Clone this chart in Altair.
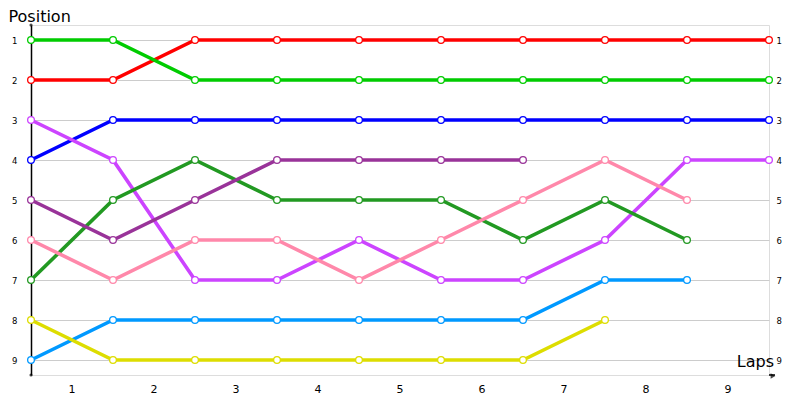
import altair as alt
import pandas as pd

# ---- data ----
nodes = [0, 1, 2, 3, 4, 5, 6, 7, 8, 9]
lap_labels = [1, 2, 3, 4, 5, 6, 7, 8, 9]
lap_mid = [0.5, 1.5, 2.5, 3.5, 4.5, 5.5, 6.5, 7.5, 8.5]
positions = [1, 2, 3, 4, 5, 6, 7, 8, 9]

series_names = ["A", "B", "C", "D", "E", "F", "G", "H", "I"]
series_colors = ["#ff0000", "#00cc00", "#0000ff", "#cc44ff", "#229922",
                 "#993399", "#ff88aa", "#0099ff", "#dddd00"]

s_red = [2, 2, 1, 1, 1, 1, 1, 1, 1, 1]
s_green = [1, 1, 2, 2, 2, 2, 2, 2, 2, 2]
s_blue = [4, 3, 3, 3, 3, 3, 3, 3, 3, 3]
s_violet = [3, 4, 7, 7, 6, 7, 7, 6, 4, 4]
s_darkgreen = [7, 5, 4, 5, 5, 5, 6, 5, 6]
s_purple = [5, 6, 5, 4, 4, 4, 4]
s_pink = [6, 7, 6, 6, 7, 6, 5, 4, 5]
s_skyblue = [9, 8, 8, 8, 8, 8, 8, 7, 7]
s_yellow = [8, 9, 9, 9, 9, 9, 9, 8]

all_series = [s_red, s_green, s_blue, s_violet, s_darkgreen,
              s_purple, s_pink, s_skyblue, s_yellow]

x_title = "Laps"
y_title = "Position"

rows = []
for name, vals in zip(series_names, all_series):
    for x, v in zip(nodes, vals):
        rows.append({"series": name, "x": x, "pos": v})
df = pd.DataFrame(rows)
laps_df = pd.DataFrame({"mid": lap_mid, "lap": [str(l) for l in lap_labels]})

W, H = 738, 350
font = "DejaVu Sans"

xscale = alt.Scale(domain=[0, 9], nice=False, zero=False)
yscale = alt.Scale(domain=[0.625, 9.375], reverse=True, nice=False, zero=False)
color = alt.Color("series:N", scale=alt.Scale(domain=series_names, range=series_colors), legend=None)

lines = alt.Chart(df).mark_line(strokeWidth=3.6).encode(
    x=alt.X("x:Q", scale=xscale,
            axis=alt.Axis(values=nodes, grid=True, gridColor="#cccccc", labels=False,
                          ticks=False, domainColor="black", domainWidth=1.5, title=None)),
    y=alt.Y("pos:Q", scale=yscale,
            axis=alt.Axis(values=positions, grid=True, gridColor="#cccccc", ticks=False,
                          domainColor="black", domainWidth=1.5, labelPadding=14,
                          labelFont=font, labelFontSize=8.5, labelColor="black",
                          title=y_title, titleAngle=0, titleAlign="left",
                          titleBaseline="alphabetic", titleX=-23, titleY=-4,
                          titleFont=font, titleFontSize=16, titleFontWeight="normal",
                          titleColor="black")),
    color=color,
    order="x:Q",
)

points = alt.Chart(df).mark_point(filled=False, fill="white", fillOpacity=1,
                                  size=45, strokeWidth=1.3, opacity=1).encode(
    x=alt.X("x:Q", scale=xscale, axis=None),
    y=alt.Y("pos:Q", scale=yscale,
            axis=alt.Axis(values=positions, orient="right", grid=False, ticks=False,
                          domain=False, labelPadding=7, labelFont=font,
                          labelFontSize=8.5, labelColor="black", title=None)),
    color=color,
)

lap_text = alt.Chart(laps_df).mark_text(font=font, fontSize=11, color="black",
                                        baseline="alphabetic").encode(
    x=alt.X("mid:Q", scale=xscale, axis=None),
    y=alt.value(368),
    text="lap:N",
)

laps_title = alt.Chart(pd.DataFrame({"t": [x_title]})).mark_text(
    font=font, fontSize=16, color="black", align="right", baseline="alphabetic"
).encode(x=alt.value(743), y=alt.value(342), text="t:N")

# axis decorations: arrow at x-axis end, dots at y-axis ends
ax_ext = alt.Chart(laps_df.head(1)).mark_rule(color="black", strokeWidth=1.5).encode(
    x=alt.value(W), x2=alt.value(W + 6), y=alt.value(H))
arrow = alt.Chart(laps_df.head(1)).mark_point(shape="triangle-right", filled=True,
                                               color="black", size=30).encode(
    x=alt.value(W + 4), y=alt.value(H + 1))
dots = alt.Chart(pd.DataFrame({"yy": [0, H]})).mark_point(filled=True, color="black",
                                                          size=10, shape="circle").encode(
    x=alt.value(0), y=alt.Y("yy:Q", scale=None))

chart = alt.layer(lines, points, lap_text, laps_title, ax_ext, arrow, dots).resolve_axis(
    y="independent"
).properties(
    width=W, height=H,
    autosize=alt.AutoSizeParams(type="none"),
    padding={"left": 23, "top": 17, "right": 23, "bottom": 30},
).configure_view(stroke=None).configure(background="white")

chart.save("out.html", embed_options={"renderer": "svg", "actions": False})
